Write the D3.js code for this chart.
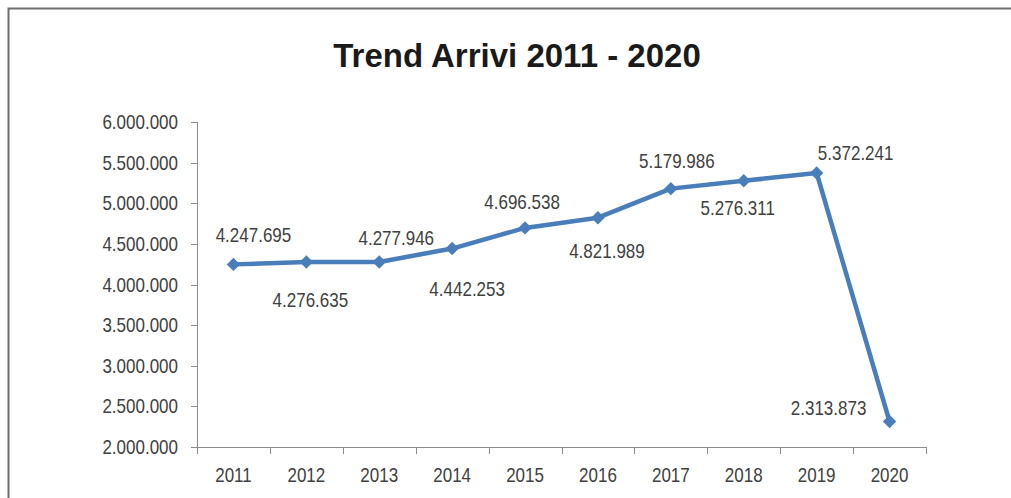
<!DOCTYPE html>
<html>
<head>
<meta charset="utf-8">
<script src="https://cdn.jsdelivr.net/npm/d3@7"></script>
<style>
body{margin:0;background:#fff;}
svg{display:block;font-family:"Liberation Sans",Arial,sans-serif;}
</style>
</head>
<body>
<svg id="chart" width="1011" height="498"></svg>
<script>
// data
var years = ['2011','2012','2013','2014','2015','2016','2017','2018','2019','2020']
var arrivi = [4247695, 4276635, 4277946, 4442253, 4696538, 4821989, 5179986, 5276311, 5372241, 2313873]
var yTicks = [2000000, 2500000, 3000000, 3500000, 4000000, 4500000, 5000000, 5500000, 6000000]
// where each value label sits relative to its point (dx, dy of the text centre)
var labelOff = [[20,-29],[4,38],[17,-24],[15,40],[-3,-26],[9,33],[6,-28],[-6,27],[39,-20],[-61,-13]]

var svg = d3.select('#chart')
var mLeft = 197, mRight = 926, mTop = 122, mBottom = 447
var squeeze = 0.85 // the picture's text is a bit narrow

// outer frame (top and left visible)
svg.append('path')
  .attr('d', 'M8.5,498 L8.5,8.5 L1011,8.5')
  .attr('fill','none').attr('stroke','#6e6e6e').attr('stroke-width',2)

svg.append('text')
  .attr('x', 517).attr('y', 67)
  .attr('text-anchor','middle')
  .attr('font-size', 33).attr('font-weight','bold').attr('fill','#1a1a1a')
  .text('Trend Arrivi 2011 - 2020')

var x = d3.scaleBand().domain(years).range([mLeft, mRight])
var y = d3.scaleLinear().domain([2000000, 6000000]).range([mBottom, mTop])

var fmt = v => d3.format(',')(v).replace(/,/g, '.')

function narrowText(sel, tx, ty, anchor) {
  sel.attr('text-anchor', anchor).attr('font-size', 20).attr('fill', '#404040')
    .attr('transform', (d,i) => 'translate(' + tx(d,i) + ',' + ty(d,i) + ') scale(' + squeeze + ',1)')
}

// y axis
var gy = svg.append('g')
gy.append('line').attr('x1', mLeft + 0.5).attr('x2', mLeft + 0.5).attr('y1', mTop).attr('y2', mBottom)
  .attr('stroke','#8c8c8c')
gy.selectAll('line.tk').data(yTicks).enter().append('line').attr('class','tk')
  .attr('x1', mLeft - 6).attr('x2', mLeft).attr('y1', d => Math.round(y(d)) + 0.5).attr('y2', d => Math.round(y(d)) + 0.5)
  .attr('stroke','#8c8c8c')
gy.selectAll('text').data(yTicks).enter().append('text')
  .call(narrowText, () => mLeft - 19, d => y(d) + 7, 'end')
  .text(fmt)

// x axis, ticks between categories
var gx = svg.append('g')
gx.append('line').attr('x1', mLeft).attr('x2', mRight + 1).attr('y1', mBottom + 0.5).attr('y2', mBottom + 0.5)
  .attr('stroke','#8c8c8c')
var bounds = years.map(d => x(d)).concat([mRight])
gx.selectAll('line.tk').data(bounds).enter().append('line').attr('class','tk')
  .attr('x1', d => Math.round(d) + 0.5).attr('x2', d => Math.round(d) + 0.5)
  .attr('y1', mBottom).attr('y2', mBottom + 7)
  .attr('stroke','#8c8c8c')
gx.selectAll('text').data(years).enter().append('text')
  .call(narrowText, d => x(d) + x.bandwidth()/2, () => mBottom + 35, 'middle')
  .text(d => d)

var px = (d,i) => x(years[i]) + x.bandwidth()/2

svg.append('path').datum(arrivi)
  .attr('fill','none').attr('stroke','#4a7ebb').attr('stroke-width',4.5)
  .attr('stroke-linejoin','round')
  .attr('d', d3.line().x(px).y(d => y(d)))

// diamonds: squares turned 45 degrees
svg.selectAll('path.mk').data(arrivi).enter().append('path').attr('class','mk')
  .attr('d', d3.symbol(d3.symbolSquare, 90))
  .attr('transform', (d,i) => 'translate(' + px(d,i) + ',' + y(d) + ') rotate(45)')
  .attr('fill','#4a7ebb')

svg.selectAll('text.lbl').data(arrivi).enter().append('text').attr('class','lbl')
  .call(narrowText, (d,i) => px(d,i) + labelOff[i][0], (d,i) => y(d) + labelOff[i][1] + 7, 'middle')
  .text(d => fmt(d))
</script>
</body>
</html>
